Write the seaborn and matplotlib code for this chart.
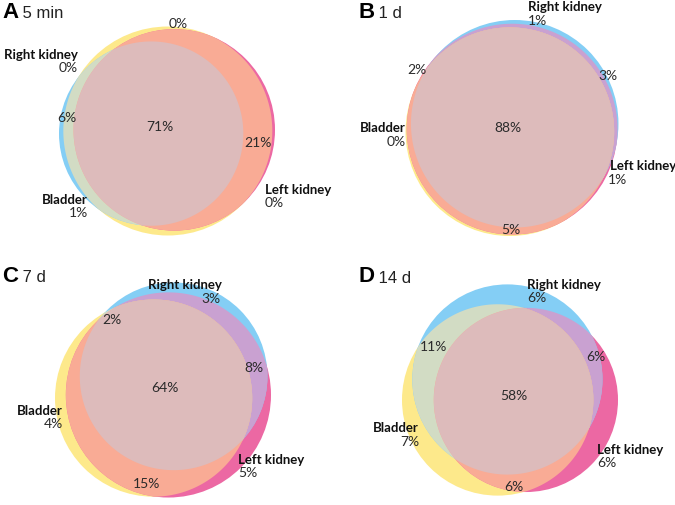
import numpy as np
import matplotlib
matplotlib.use("Agg")
import matplotlib.pyplot as plt
from matplotlib.patches import Circle, Polygon
import seaborn as sns

# 데이터: 각 영역의 비율 (%)
set_names = ["Right kidney", "Left kidney", "Bladder"]
panel_letters = ["A", "B", "C", "D"]
panel_times = ["5 min", "1 d", "7 d", "14 d"]
only_right = [0, 1, 3, 6]
only_left = [0, 1, 5, 6]
only_bladder = [1, 0, 4, 7]
right_left = [0, 3, 8, 6]
right_bladder = [6, 2, 2, 11]
left_bladder = [21, 5, 15, 6]
all_three = [71, 88, 64, 58]

# 색상
col_right = "#84CEF5"
col_left = "#EC68A3"
col_bladder = "#FDE98B"
col_rl = "#C9A1D1"
col_rb = "#D2DCC4"
col_lb = "#F9AB95"
col_all = "#DDBBBB"

# 패널 배치 (픽셀): 다이어그램 중심, 회전각, 라벨 위치
centers = [(167, 131), (512, 128), (163, 390), (510, 390)]
angles = [10, 48, 12, 0]
title_xy = [(2, 12), (358, 12), (2, 276), (358, 277)]
# 라벨: (x, y, ha)  순서: R only, L only, B only, RL, RB, LB, all
value_xy = [
    [(78, 68, "right"), (265, 203, "left"), (88, 213, "right"), (178, 24, "center"),
     (67, 118, "center"), (258, 143, "center"), (160, 127, "center")],
    [(528, 21, "left"), (608, 180, "left"), (406, 142, "right"), (608, 76, "center"),
     (417, 70, "center"), (511, 230, "center"), (508, 128, "center")],
    [(221, 299, "right"), (238, 473, "left"), (63, 424, "right"), (254, 368, "center"),
     (112, 320, "center"), (147, 484, "center"), (165, 388, "center")],
    [(527, 298, "left"), (597, 463, "left"), (419, 442, "right"), (596, 357, "center"),
     (434, 347, "center"), (514, 487, "center"), (514, 396, "center")],
]
name_xy = [
    [(78, 55, "right"), (265, 190, "left"), (88, 200, "right")],
    [(528, 7, "left"), (610, 166, "left"), (406, 128, "right")],
    [(185, 285, "center"), (238, 460, "left"), (63, 411, "right")],
    [(527, 285, "left"), (597, 450, "left"), (419, 428, "right")],
]


def lens_area(r1, r2, d):
    if d >= r1 + r2:
        return 0.0
    if d <= abs(r1 - r2):
        return np.pi * min(r1, r2) ** 2
    a1 = r1 ** 2 * np.arccos((d * d + r1 * r1 - r2 * r2) / (2 * d * r1))
    a2 = r2 ** 2 * np.arccos((d * d + r2 * r2 - r1 * r1) / (2 * d * r2))
    k = np.sqrt((-d + r1 + r2) * (d + r1 - r2) * (d - r1 + r2) * (d + r1 + r2))
    return a1 + a2 - 0.5 * k


def dist_for(r1, r2, target):
    lo, hi = abs(r1 - r2), r1 + r2
    for _ in range(60):
        mid = (lo + hi) / 2
        if lens_area(r1, r2, mid) > target:
            lo = mid
        else:
            hi = mid
    return (lo + hi) / 2


g = np.linspace(-14, 14, 351)
GX, GY = np.meshgrid(g, g)
cell = (g[1] - g[0]) ** 2


def region_areas(c, r):
    R, L, B = [(GX - c[i, 0]) ** 2 + (GY - c[i, 1]) ** 2 <= r[i] ** 2 for i in range(3)]
    regs = [R & ~L & ~B, L & ~R & ~B, B & ~R & ~L, R & L & ~B, R & B & ~L, L & B & ~R, R & L & B]
    return np.array([m.sum() for m in regs]) * cell


def layout(vals):
    # 면적 비례 벤 다이어그램 배치
    v = np.array(vals, dtype=float)
    sizes = np.array([v[0] + v[3] + v[4] + v[6],
                      v[1] + v[3] + v[5] + v[6],
                      v[2] + v[4] + v[5] + v[6]])
    r = np.sqrt(sizes / np.pi)
    d_rl = dist_for(r[0], r[1], v[3] + v[6])
    d_rb = dist_for(r[0], r[2], v[4] + v[6])
    d_lb = dist_for(r[1], r[2], v[5] + v[6])
    d_lb = max(d_lb, 1e-3)
    x = (d_lb ** 2 + d_rb ** 2 - d_rl ** 2) / (2 * d_lb)
    y = np.sqrt(max(d_rb ** 2 - x ** 2, 0))
    c = np.array([[x, y], [d_lb, 0.0], [0.0, 0.0]])
    best = ((region_areas(c, r) - v) ** 2).sum()
    step = 0.5
    while step > 0.005:
        improved = False
        for i in range(3):
            for j in range(2):
                for s in (step, -step):
                    c2 = c.copy()
                    c2[i, j] += s
                    e = ((region_areas(c2, r) - v) ** 2).sum()
                    if e < best - 1e-9:
                        best, c, improved = e, c2, True
        if not improved:
            step *= 0.5
    return c, r


def lens_poly(cs, rs):
    pts = []
    for i in range(len(cs)):
        t = np.linspace(0, 2 * np.pi, 720, endpoint=False)
        p = np.c_[cs[i][0] + rs[i] * np.cos(t), cs[i][1] + rs[i] * np.sin(t)]
        ok = np.ones(len(p), bool)
        for j in range(len(cs)):
            if j != i:
                ok &= np.hypot(p[:, 0] - cs[j][0], p[:, 1] - cs[j][1]) <= rs[j] + 1e-9
        pts.append(p[ok])
    pts = np.vstack(pts)
    if len(pts) < 3:
        return None
    m = pts.mean(axis=0)
    return pts[np.argsort(np.arctan2(pts[:, 1] - m[1], pts[:, 0] - m[0]))]


sns.set_theme(style="white")
fig = plt.figure(figsize=(6.75, 5.05), dpi=100)
ax = fig.add_axes([0, 0, 1, 1])
ax.set_xlim(0, 675)
ax.set_ylim(505, 0)
ax.axis("off")

for k in range(4):
    vals = [only_right[k], only_left[k], only_bladder[k], right_left[k],
            right_bladder[k], left_bladder[k], all_three[k]]
    c, r = layout(vals)
    # 방향 맞추기: Bladder -> Left kidney 가 angles[k] 방향, Right kidney 위쪽
    c = c - c[2]
    phi = np.arctan2(c[1, 1], c[1, 0])
    th = np.deg2rad(angles[k]) - phi
    rot = np.array([[np.cos(th), -np.sin(th)], [np.sin(th), np.cos(th)]])
    c = c @ rot.T
    u = np.array([np.cos(np.deg2rad(angles[k])), np.sin(np.deg2rad(angles[k]))])
    if u[0] * c[0, 1] - u[1] * c[0, 0] < 0:
        nrm = np.array([-u[1], u[0]])
        c = c - 2 * np.outer(c @ nrm, nrm)
    # 픽셀 좌표로 변환
    xmin, xmax = (c[:, 0] - r).min(), (c[:, 0] + r).max()
    ymin, ymax = (c[:, 1] - r).min(), (c[:, 1] + r).max()
    s = 216 / max(xmax - xmin, ymax - ymin)
    px = centers[k][0] + s * (c[:, 0] - (xmin + xmax) / 2)
    py = centers[k][1] - s * (c[:, 1] - (ymin + ymax) / 2)
    cs = list(zip(px, py))
    rs = list(r * s)

    for i, col in zip([2, 1, 0], [col_bladder, col_left, col_right]):
        ax.add_patch(Circle(cs[i], rs[i], facecolor=col, edgecolor="none"))
    for (i, j), col in zip([(0, 1), (0, 2), (1, 2)], [col_rl, col_rb, col_lb]):
        pg = lens_poly([cs[i], cs[j]], [rs[i], rs[j]])
        if pg is not None:
            ax.add_patch(Polygon(pg, closed=True, facecolor=col, edgecolor="none"))
    pg = lens_poly(cs, rs)
    if pg is not None:
        ax.add_patch(Polygon(pg, closed=True, facecolor=col_all, edgecolor="none"))

    for (x, y, ha), v in zip(value_xy[k], vals):
        ax.text(x, y, f"{v}%", ha=ha, va="center", fontsize=10, family="Lato", color="#2a2a2a")
    for (x, y, ha), nm in zip(name_xy[k], set_names):
        ax.text(x, y, nm, ha=ha, va="center", fontsize=9.5, family="Lato", fontweight="bold",
                color="#111111")
    tx, ty = title_xy[k]
    t = ax.text(tx, ty, panel_letters[k], ha="left", va="center", fontsize=16,
                fontweight="bold", family="Liberation Sans", color="black")
    ax.annotate(" " + panel_times[k], xycoords=t, xy=(1, 0.45), va="center", ha="left",
                fontsize=12, family="Liberation Sans", color="#222222")

fig.savefig("out.png", dpi=100)
